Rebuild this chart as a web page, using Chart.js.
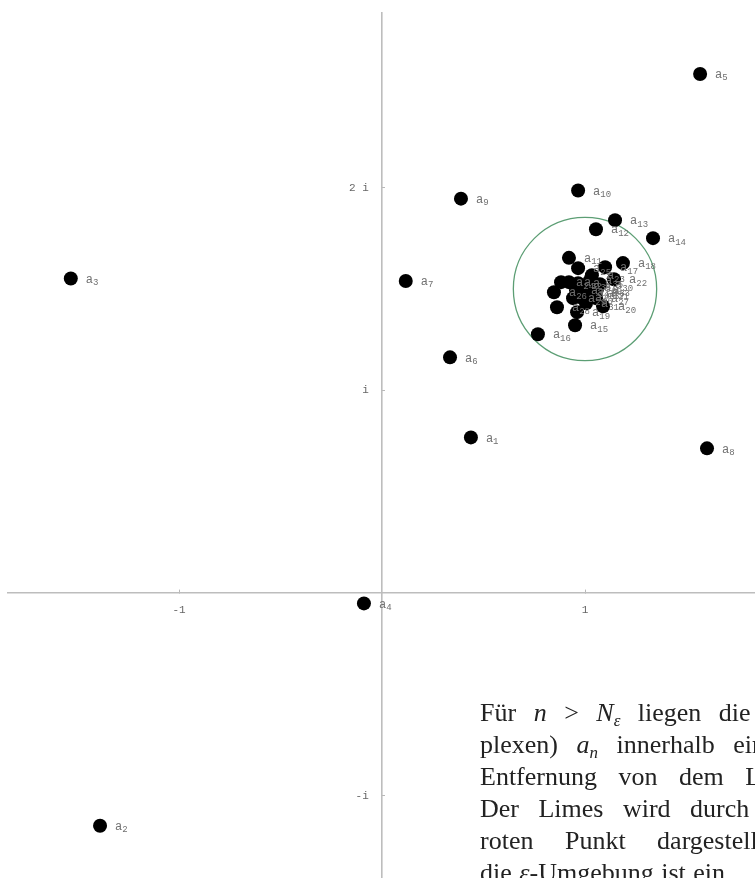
<!DOCTYPE html>
<html>
    <head>
        <title>Folge a_n und Limes</title>
        <meta charset="utf-8">
        <script src="https://cdn.jsdelivr.net/npm/chart.js@4.4.1/dist/chart.umd.min.js"></script>
    </head>
    <body>
        <div id="page">
            <div class="chart-container">
                <canvas id="myChart" width="800" height="900"></canvas>
            </div>
            <div id="note">
                <div style="word-spacing:11px">Für <i>n</i> &gt; <i>N<sub>ε</sub></i> liegen die (kom-</div>
                <div style="word-spacing:12px">plexen) <i>a<sub>n</sub></i> innerhalb einer</div>
                <div style="word-spacing:15px">Entfernung von dem Limes.</div>
                <div style="word-spacing:13px">Der Limes wird durch einen</div>
                <div style="word-spacing:25px">roten Punkt dargestellt, und</div>
                <div style="word-spacing:1px">die <i>ε</i>-Umgebung ist ein <span style="margin-left:40px">Kreis.</span></div>
            </div>
        </div>
        <script>
            // Folge a_n (Realteil, Imaginaerteil), n = 1 .. 40
            const seqRe = [0.438, -1.389, -1.533, -0.089, 1.567, 0.335, 0.117, 1.601, 0.389, 0.966,
                           0.921, 1.054, 1.148, 1.335, 0.951, 0.768, 1.099, 1.187, 0.961, 1.089,
                           1.054, 1.143, 1.034, 0.882, 0.966, 0.847, 1.054, 0.862, 0.941, 1.074,
                           1.005, 0.921, 1.059, 0.956, 1.025, 0.975, 1.034, 0.966, 1.020, 0.985];
            const seqIm = [0.768, -1.148, 1.552, -0.051, 2.561, 1.163, 1.540, 0.714, 1.946, 1.986,
                           1.654, 1.795, 1.840, 1.751, 1.321, 1.277, 1.608, 1.628, 1.386, 1.415,
                           1.484, 1.548, 1.568, 1.534, 1.603, 1.484, 1.455, 1.410, 1.455, 1.524,
                           1.430, 1.534, 1.499, 1.494, 1.544, 1.460, 1.480, 1.529, 1.509, 1.484];
            const limitRe = 1.0;
            const limitIm = 1.5;
            const eps = 0.353;

            const xTicks = [-1, 1];
            const xTickLabels = ['-1', '1'];
            const yTicks = [2, 1, -1];
            const yTickLabels = ['2 i', 'i', '-i'];

            const points = seqRe.map((re, i) => ({x: re, y: seqIm[i]}));

            // epsilon-Kreis um den Limes
            const circlePlugin = {
                id: 'epsCircle',
                beforeDatasetsDraw(chart) {
                    const {ctx, scales: {x, y}} = chart;
                    const cx = x.getPixelForValue(limitRe);
                    const cy = y.getPixelForValue(limitIm);
                    const r = x.getPixelForValue(limitRe + eps) - cx;
                    ctx.save();
                    ctx.strokeStyle = '#5c9e74';
                    ctx.lineWidth = 1.3;
                    ctx.beginPath();
                    ctx.arc(cx, cy, r, 0, Math.PI * 2);
                    ctx.stroke();
                    ctx.restore();
                }
            };

            // Beschriftung a_n neben jedem Punkt
            const labelPlugin = {
                id: 'pointNames',
                afterDatasetsDraw(chart) {
                    const ctx = chart.ctx;
                    const meta = chart.getDatasetMeta(0);
                    ctx.save();
                    ctx.fillStyle = '#707070';
                    ctx.textBaseline = 'middle';
                    meta.data.forEach((pt, i) => {
                        const lx = pt.x + 15;
                        const ly = pt.y + 1;
                        ctx.font = '12px "Liberation Mono", monospace';
                        ctx.fillText('a', lx, ly);
                        const w = ctx.measureText('a').width;
                        ctx.font = '9px "Liberation Mono", monospace';
                        ctx.fillText(String(i + 1), lx + w, ly + 3);
                    });
                    ctx.restore();
                }
            };

            // Achsen sollen keinen Platz im Layout belegen
            const noSpace = (s) => {
                if (s.isHorizontal()) { s.height = 0; } else { s.width = 0; }
                s.paddingTop = 0;
                s.paddingBottom = 0;
                s.paddingLeft = 0;
                s.paddingRight = 0;
            };

            const axisGrid = {drawOnChartArea: false, drawTicks: true, tickLength: -4, color: '#b8b8b8', lineWidth: 1};
            const axisBorder = {color: '#bdbdbd', width: 1.6};
            const tickFont = {family: '"Liberation Mono", monospace', size: 11};

            const ctx = document.getElementById('myChart').getContext('2d');
            const chart = new Chart(ctx, {
                type: 'scatter',
                data: {
                    datasets: [{
                        label: 'a_n',
                        data: points,
                        pointRadius: 7,
                        pointBorderWidth: 0,
                        backgroundColor: '#000000',
                    }, {
                        label: 'Limes',
                        data: [{x: limitRe, y: limitIm}],
                        pointRadius: 7,
                        pointBorderWidth: 0,
                        backgroundColor: '#ee2a2a',
                    }]
                },
                options: {
                    responsive: false,
                    animation: false,
                    events: [],
                    layout: {padding: {left: 8, top: 13, right: 12, bottom: 3.65}},
                    plugins: {legend: {display: false}, tooltip: {enabled: false}},
                    scales: {
                        x: {
                            type: 'linear',
                            min: -1.8424,
                            max: 2.0,
                            position: {y: 0},
                            grid: axisGrid,
                            border: axisBorder,
                            afterBuildTicks: (s) => { s.ticks = xTicks.map(v => ({value: v})); },
                            afterFit: noSpace,
                            ticks: {
                                padding: 14,
                                color: '#666666',
                                font: tickFont,
                                autoSkip: false,
                                maxRotation: 0,
                                callback: (v) => xTickLabels[xTicks.indexOf(v)]
                            }
                        },
                        y: {
                            type: 'linear',
                            min: -1.48,
                            max: 2.862,
                            position: {x: 0},
                            grid: axisGrid,
                            border: axisBorder,
                            afterBuildTicks: (s) => { s.ticks = yTicks.map(v => ({value: v})); },
                            afterFit: noSpace,
                            ticks: {
                                padding: 14,
                                color: '#666666',
                                font: tickFont,
                                autoSkip: false,
                                // zwei Leerzeichen als Abstand zur Achse
                                callback: (v) => yTickLabels[yTicks.indexOf(v)] + '  '
                            }
                        }
                    }
                },
                plugins: [circlePlugin, labelPlugin]
            });
        </script>
    </body>
    <style>
        html, body {
            margin: 0;
            padding: 0;
            background: #ffffff;
            overflow: hidden;
        }
        #page {
            position: relative;
            width: 755px;
            height: 878px;
            overflow: hidden;
            background: #ffffff;
        }
        .chart-container {
            position: absolute;
            left: 0;
            top: 0;
            width: 800px;
            height: 900px;
        }
        #note {
            position: absolute;
            left: 480px;
            top: 697px;
            font-family: 'Liberation Serif', serif;
            font-size: 26px;
            line-height: 32px;
            color: #222222;
            white-space: nowrap;
        }
        #note sub {
            font-size: 17px;
            line-height: 0;
            vertical-align: -5px;
        }
    </style>
</html>
